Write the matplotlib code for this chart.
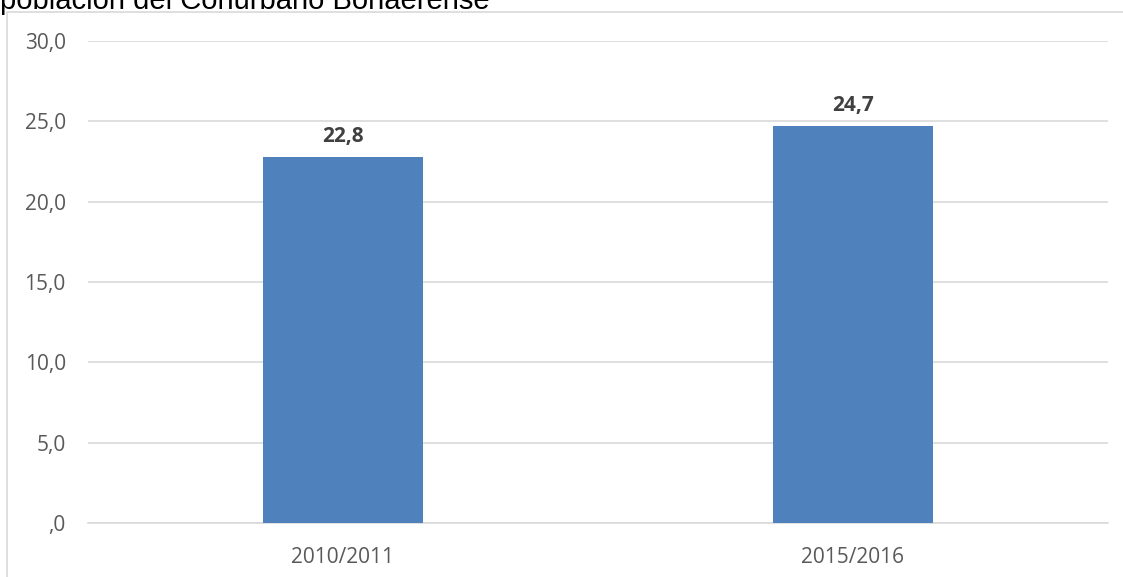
import matplotlib.pyplot as plt
from matplotlib.patches import Rectangle

categories = ["2010/2011", "2015/2016"]
values = [22.8, 24.7]
yticks = [0, 5, 10, 15, 20, 25, 30]
ytick_labels = [",0", "5,0", "10,0", "15,0", "20,0", "25,0", "30,0"]
title = "población del Conurbano Bonaerense"

W, H = 1123, 577
fig = plt.figure(figsize=(W / 100, H / 100), dpi=100)

# chart border (partially cut off at right/bottom)
fig.patches.append(Rectangle((7 / W, -0.1), 1.2, 1 - 12 / H + 0.1, transform=fig.transFigure,
                             fill=False, edgecolor="#d9d9d9", linewidth=1.2))

fig.text(0, 1 - 9 / H, title, fontsize=21, family="Liberation Sans", color="black",
         ha="left", va="baseline")

ax = fig.add_axes([88 / W, 1 - 523 / H, 1020 / W, (523 - 41) / H])
x = range(len(categories))
ax.bar(x, values, width=0.314, color="#4f81bd", zorder=3)
ax.set_xlim(-0.5, 1.5)
ax.set_ylim(0, 30)
ax.set_yticks(yticks)
ax.set_yticklabels(ytick_labels)
ax.set_xticks(list(x))
ax.set_xticklabels(categories)
ax.grid(axis="y", color="#d9d9d9", linewidth=1.2, zorder=0)
for s in ["top", "right", "left"]:
    ax.spines[s].set_visible(False)
ax.spines["bottom"].set_color("#d9d9d9")
ax.spines["bottom"].set_linewidth(1.2)
ax.tick_params(length=0, labelsize=15, labelcolor="#595959")
ax.tick_params(axis="y", pad=16)
ax.tick_params(axis="x", pad=17)
for lbl in ax.get_xticklabels() + ax.get_yticklabels():
    lbl.set_family("Open Sans")

for i, v in enumerate(values):
    ax.annotate(f"{v:.1f}".replace(".", ","), (i, v), xytext=(0, 7), textcoords="offset points",
                ha="center", va="bottom", fontsize=15, fontweight="bold", color="#404040",
                family="Open Sans")

fig.savefig("out.png", dpi=100)
